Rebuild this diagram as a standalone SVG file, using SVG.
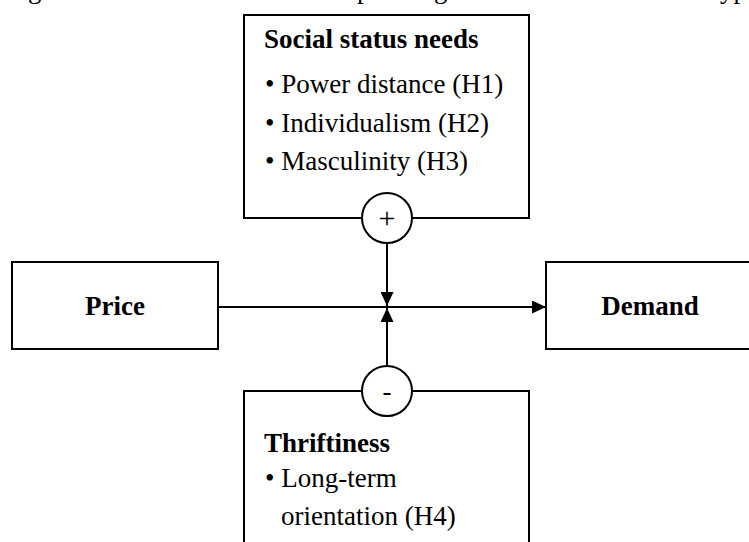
<svg xmlns="http://www.w3.org/2000/svg" width="749" height="542" viewBox="0 0 749 542">
<style>
.box{fill:#fff;stroke:#000;stroke-width:2}
.circ{fill:#fff;stroke:#000;stroke-width:2}
.ln{stroke:#000;stroke-width:2;fill:none}
text{font-family:"Liberation Serif","Times New Roman",serif;font-size:27px;fill:#000}
.b{font-weight:bold}
.c{text-anchor:middle}
.sign{font-size:30px}
</style>
<defs>
<marker id="ah" markerWidth="14" markerHeight="13" refX="14" refY="6.5" orient="auto" markerUnits="userSpaceOnUse">
<path d="M0,0 L14,6.5 L0,13 Z" fill="#000"/>
</marker>
</defs>
<rect width="749" height="542" fill="#fff"/>
<g id="caption-fragments">
<text x="28" y="-2">g</text>
<text x="357" y="-2">p</text>
<text x="434" y="-2">g</text>
<text x="720" y="-2">yp</text>
</g>
<g id="connectors">
<line class="ln" x1="218" y1="307" x2="546" y2="307" marker-end="url(#ah)"/>
<line class="ln" x1="387" y1="243" x2="387" y2="306" marker-end="url(#ah)"/>
<line class="ln" x1="387" y1="366" x2="387" y2="308" marker-end="url(#ah)"/>
</g>
<g id="social-status">
<rect class="box" x="244" y="15" width="285" height="203"/>
<text class="b" x="264" y="48">Social status needs</text>
<text x="265" y="93">• Power distance (H1)</text>
<text x="265" y="132">• Individualism (H2)</text>
<text x="265" y="170">• Masculinity (H3)</text>
</g>
<g id="plus">
<circle class="circ" cx="387" cy="218" r="25"/>
<text class="c sign" x="387" y="228">+</text>
</g>
<g id="price">
<rect class="box" x="12" y="262" width="206" height="87"/>
<text class="b c" x="115" y="315">Price</text>
</g>
<g id="demand">
<rect class="box" x="546" y="262" width="220" height="87"/>
<text class="b c" x="650" y="315">Demand</text>
</g>
<g id="thriftiness">
<rect class="box" x="244" y="391" width="285" height="170"/>
<text class="b" x="264" y="452">Thriftiness</text>
<text x="265" y="487">• Long-term</text>
<text x="281" y="525">orientation (H4)</text>
</g>
<g id="minus">
<circle class="circ" cx="387" cy="391" r="25"/>
<text class="c" x="387" y="400">-</text>
</g>
</svg>
